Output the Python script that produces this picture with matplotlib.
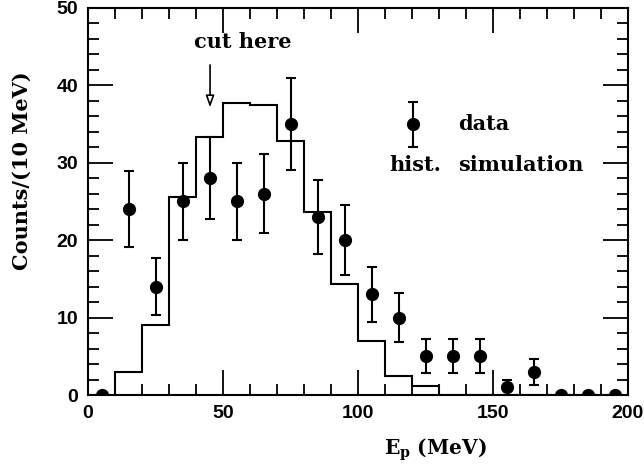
import matplotlib
matplotlib.use("Agg")
import matplotlib.pyplot as plt
import numpy as np

plt.rcParams["mathtext.fontset"] = "dejavuserif"

# Simulation histogram (bin edges in MeV, counts per 10 MeV)
hist_edges = [0, 10, 20, 30, 40, 50, 60, 70, 80, 90, 100, 110, 120, 130, 140, 150, 160, 170, 180, 190, 200]
hist_counts = [0, 3.0, 9.1, 25.6, 33.3, 37.7, 37.5, 32.8, 23.6, 14.4, 7.0, 2.4, 1.1, 0, 0, 0, 0, 0, 0, 0]

# Data points
data_x = [5, 15, 25, 35, 45, 55, 65, 75, 85, 95, 105, 115, 125, 135, 145, 155, 165, 175, 185, 195]
data_y = [0, 24, 14, 25, 28, 25, 26, 35, 23, 20, 13, 10, 5, 5, 5, 1, 3, 0, 0, 0]
data_err = [0, 4.9, 3.7, 5.0, 5.3, 5.0, 5.1, 5.9, 4.8, 4.5, 3.6, 3.2, 2.2, 2.2, 2.2, 1.0, 1.7, 0, 0, 0]

x_ticks = [0, 50, 100, 150, 200]
y_ticks = [0, 10, 20, 30, 40, 50]

serif = ["DejaVu Serif"]
sans = ["Liberation Sans", "DejaVu Sans"]

fig = plt.figure(figsize=(6.44, 4.69), dpi=100)
ax = fig.add_axes([88/644, 1-395/469, 540/644, 387/469])

ax.stairs(hist_counts, hist_edges, color="black", linewidth=1.5)

ax.errorbar(data_x, data_y, yerr=data_err, fmt="o", color="black",
            markersize=8.5, capsize=3.5, elinewidth=1.5, capthick=1.5, zorder=5)

# legend-like annotation
ax.errorbar([120.5], [35], yerr=[2.9], fmt="o", color="black",
            markersize=8.5, capsize=3.5, elinewidth=1.5, capthick=1.5)
ax.text(137, 35, "data", fontfamily=serif, fontweight="bold", fontsize=15, va="center", ha="left")
ax.text(111.5, 29.7, "hist.", fontfamily=serif, fontweight="bold", fontsize=15, va="center", ha="left")
ax.text(137, 29.7, "simulation", fontfamily=serif, fontweight="bold", fontsize=15, va="center", ha="left")

ax.text(57.5, 45.6, "cut here", fontfamily=serif, fontweight="bold", fontsize=15, va="center", ha="center")
ax.annotate("", xy=(45.2, 36.8), xytext=(45.2, 43.0),
            arrowprops=dict(arrowstyle="-|>,head_length=0.7,head_width=0.25",
                            facecolor="white", edgecolor="black", linewidth=1.2))

ax.set_xlim(0, 200)
ax.set_ylim(0, 50)
ax.set_xticks(x_ticks)
ax.set_yticks(y_ticks)
ax.set_xticks(np.arange(0, 201, 10), minor=True)
ax.set_yticks(np.arange(0, 51, 2), minor=True)
ax.tick_params(which="both", direction="in", top=True, right=True, width=1.3)
ax.tick_params(which="major", length=18)
ax.tick_params(which="minor", length=8)
ax.tick_params(axis="both", which="major", pad=7, labelsize=14)
for lab in ax.get_xticklabels() + ax.get_yticklabels():
    lab.set_fontfamily(sans)
    lab.set_fontweight("bold")
for s in ax.spines.values():
    s.set_linewidth(1.5)

ax.set_xlabel(r"E$_\mathbf{p}$ (MeV)", fontfamily=serif, fontweight="bold", fontsize=14.5)
ax.set_ylabel("Counts/(10 MeV)", fontfamily=serif, fontweight="bold", fontsize=15)
ax.xaxis.set_label_coords(0.644, -0.108)
ax.yaxis.set_label_coords(-0.104, 0.58)

fig.savefig("out.png", dpi=100)
